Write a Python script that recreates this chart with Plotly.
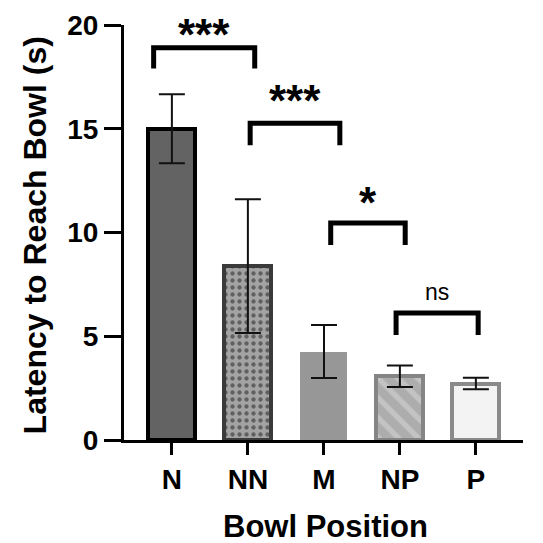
import plotly.graph_objects as go

categories = ["N", "NN", "M", "NP", "P"]
means = [15.0, 8.38, 4.26, 3.07, 2.72]
sems = [1.66, 3.22, 1.28, 0.52, 0.28]
y_ticks = [0, 5, 10, 15, 20]

# significance comparisons: (left x, right x, bar height, leg bottom, label, label y)
comp_left = [-0.24, 1.03, 2.09, 2.95]
comp_right = [1.09, 2.21, 3.07, 4.03]
comp_top = [18.9, 15.27, 10.46, 6.12]
comp_bottom = [17.9, 14.2, 9.4, 5.06]
comp_labels = ["***", "***", "*", "ns"]
comp_label_y = [19.55, 16.35, 11.45, 7.15]

fill_colors = ["#636363", "#a3a3a3", "#979797", "#adadad", "#f3f3f3"]
line_colors = ["#000000", "#3a3a3a", "#979797", "#858585", "#8a8a8a"]
line_widths = [4, 4, 0, 4, 4]
patterns = ["", ".", "", "\\", ""]
pattern_fg = ["#000", "#1e1e1e", "#000", "#dadada", "#000"]

FONT = "Liberation Sans, Arial, sans-serif"

fig = go.Figure()
x_idx = list(range(len(categories)))
for i in x_idx:
    fig.add_trace(go.Bar(
        x=[x_idx[i]], y=[means[i]], width=0.62,
        marker=dict(
            color=fill_colors[i],
            line=dict(color=line_colors[i], width=line_widths[i]),
            pattern=dict(shape=patterns[i], fgcolor=pattern_fg[i], bgcolor=fill_colors[i],
                         size=7 if patterns[i] == "." else 14,
                         solidity=0.3 if patterns[i] == "." else 0.38,
                         fillmode="overlay"),
        ),
        error_y=dict(type="data", array=[sems[i]], color="#111111", thickness=2, width=13),
        showlegend=False,
    ))

for j in range(len(comp_labels)):
    fig.add_trace(go.Scatter(
        x=[comp_left[j], comp_left[j], comp_right[j], comp_right[j]],
        y=[comp_bottom[j], comp_top[j], comp_top[j], comp_bottom[j]],
        mode="lines", line=dict(color="black", width=5),
        cliponaxis=False, showlegend=False, hoverinfo="skip",
    ))
    bold = comp_labels[j] != "ns"
    fig.add_annotation(
        x=(comp_left[j] + comp_right[j]) / 2, y=comp_label_y[j],
        text=("<b>%s</b>" % comp_labels[j]) if bold else comp_labels[j],
        showarrow=False, yanchor="middle",
        font=dict(family=FONT, size=44 if bold else 23, color="black"),
    )

fig.add_annotation(
    xref="paper", yref="paper", x=0.504, y=-0.208, xanchor="center", yanchor="middle",
    text="<b>Bowl Position</b>", showarrow=False,
    font=dict(family=FONT, size=31, color="black"),
)
fig.add_annotation(
    xref="paper", yref="paper", x=-0.222, y=0.494, xanchor="center", yanchor="middle",
    text="<b>Latency to Reach Bowl (s)</b>", showarrow=False, textangle=-90,
    font=dict(family=FONT, size=32, color="black"),
)

fig.update_layout(
    width=543, height=543,
    margin=dict(l=116, r=28, t=17, b=111, autoexpand=False),
    plot_bgcolor="white", paper_bgcolor="white",
    bargap=0,
    xaxis=dict(
        range=[-0.63, 4.62], tickvals=x_idx, ticktext=["<b>%s</b>" % c for c in categories],
        showline=True, linecolor="black", linewidth=3,
        ticks="outside", ticklen=12, tickwidth=3, tickcolor="black",
        tickfont=dict(family=FONT, size=28, color="black"),
        showgrid=False, zeroline=False, automargin=False,
    ),
    yaxis=dict(
        range=[0, 20], tickvals=y_ticks, ticktext=["<b>%d</b>" % v for v in y_ticks],
        showline=True, linecolor="black", linewidth=3,
        ticks="outside", ticklen=17, tickwidth=3, tickcolor="black",
        tickfont=dict(family=FONT, size=28, color="black"),
        showgrid=False, zeroline=False, automargin=False,
    ),
)

fig.write_html("out.html")
